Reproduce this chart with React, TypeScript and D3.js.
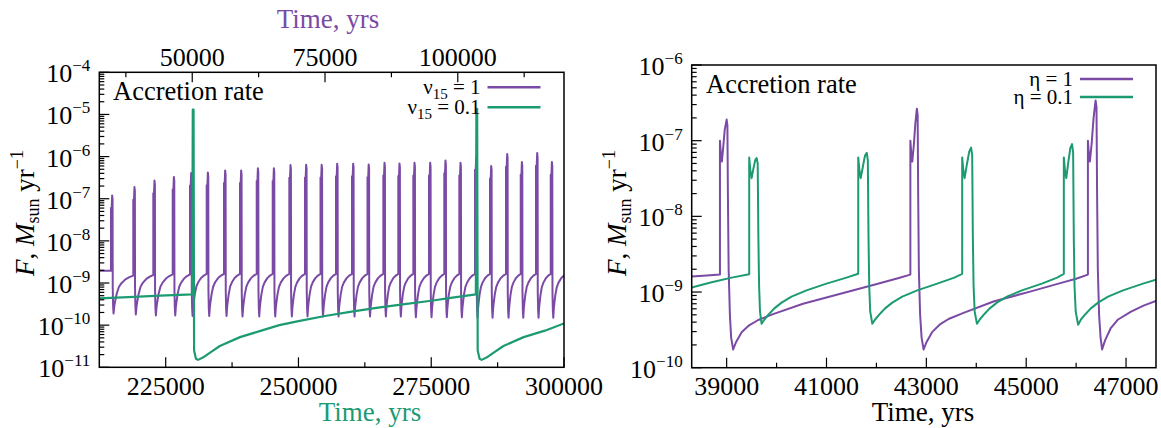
import React from 'react';
import * as d3 from 'd3';

type Pt = [number, number];

const FONT = '"Liberation Serif", "Times New Roman", Times, serif';
const PURPLE = '#7b4aa5';
const GREEN = '#1c9b72';

// ---------- left panel ----------
const leftLowerRange = [212500, 300000]; // ν15 = 0.1 time axis (bottom)
const leftUpperRange = [32500, 120000]; // ν15 = 1 time axis (top)
const leftRateRange = [1e-11, 1e-4];
const leftLowerMajor = [225000, 250000, 275000, 300000];
const leftLowerMinor = [237500, 262500, 287500];
const leftUpperMajor = [50000, 75000, 100000];
const leftUpperMinor = [37500, 62500, 87500, 112500];

// ν15 = 1 : outburst onsets (yr), peak rates, quiescent minima and pre-burst levels
const nu1Onsets = [34700, 38900, 42670, 46320, 49580, 52720, 55980, 58990, 62140, 65150, 68280, 71230, 74150, 77070,
  80080, 83000, 85980, 88800, 91630, 94580, 97460, 100290, 103240, 106070, 109080, 111850, 114730, 117500];
const nu1Peaks = [1.2e-7, 1.9e-7, 2.7e-7, 3.3e-7, 4.1e-7, 4.2e-7, 4.7e-7, 4.7e-7, 5.3e-7, 5.3e-7, 6.3e-7, 6.4e-7, 6.4e-7, 6.8e-7,
  6.8e-7, 6.5e-7, 7.1e-7, 6.9e-7, 7.1e-7, 7.1e-7, 8.1e-7, 7.1e-7, 9.7e-7, 6.0e-7, 1.15e-6, 7.4e-7, 1.22e-6, 7.4e-7];
const nu1Minima = [1.9e-10, 1.8e-10, 1.7e-10, 1.7e-10, 1.65e-10, 1.65e-10, 1.65e-10, 1.6e-10, 1.6e-10, 1.6e-10, 1.6e-10, 1.6e-10, 1.6e-10, 1.6e-10,
  1.6e-10, 1.6e-10, 1.6e-10, 1.6e-10, 1.55e-10, 1.55e-10, 1.55e-10, 1.55e-10, 1.5e-10, 1.5e-10, 1.5e-10, 1.5e-10, 1.5e-10, 1.5e-10];
const nu1PreBurst = [1.95e-9, 1.5e-9, 1.55e-9, 1.6e-9, 1.6e-9, 1.65e-9, 1.65e-9, 1.65e-9, 1.65e-9, 1.65e-9, 1.65e-9, 1.65e-9, 1.65e-9, 1.65e-9,
  1.65e-9, 1.65e-9, 1.65e-9, 1.65e-9, 1.65e-9, 1.65e-9, 1.65e-9, 1.65e-9, 1.65e-9, 1.65e-9, 1.65e-9, 1.65e-9, 1.65e-9, 1.65e-9];
const nu1Initial: Pt = [32500, 1.95e-9];
const nu1NextOnset = 120450;
const nu1NextPre = 1.65e-9;
// outburst profile: [yr after onset, fraction of peak]
const nu1BurstShape: Pt[] = [[0, 0.5], [90, 0.35], [220, 1], [300, 0.8]];
// decline profile: [yr after onset, multiple of the quiescent minimum]
const nu1DecayShape: Pt[] = [[330, 4], [400, 1.5], [480, 1]];
// quiescent recovery: [fraction of the interval, fraction of the log rise]
const quiescentRise: Pt[] = [[0.04, 0.2], [0.08, 0.32], [0.16, 0.52], [0.27, 0.7], [0.4, 0.8], [0.6, 0.9], [0.8, 0.96], [1, 1]];

// ν15 = 0.1 accretion rate
const nu01Rate: Pt[] = [
  [212500, 4.3e-10], [218000, 4.65e-10], [224000, 5.0e-10], [230000, 5.4e-10],
  [230100, 1.3e-5], [230250, 1.3e-5], [230350, 2.5e-11], [230700, 1.6e-11], [231100, 1.5e-11],
  [232000, 1.7e-11], [233500, 2.3e-11], [235200, 3.2e-11], [239000, 5.2e-11], [243000, 7.4e-11],
  [246400, 1.0e-10], [250000, 1.25e-10], [255000, 1.65e-10], [260000, 2.1e-10], [265000, 2.6e-10],
  [270000, 3.15e-10], [275000, 3.8e-10], [279000, 4.5e-10], [283400, 5.4e-10],
  [283500, 1.35e-5], [283650, 1.35e-5], [283750, 2.5e-11], [284100, 1.6e-11], [284500, 1.5e-11],
  [285400, 1.7e-11], [286900, 2.3e-11], [288600, 3.2e-11], [292400, 5.2e-11], [296400, 7.4e-11],
  [300000, 1.1e-10],
];

// ---------- right panel ----------
const rightTimeRange = [38300, 47600];
const rightRateRange = [1e-10, 1e-6];
const rightMajor = [39000, 41000, 43000, 45000, 47000];
const rightMinor = [40000, 42000, 44000, 46000];

const eta1Rate: Pt[] = [
  [38300, 1.6e-9], [38600, 1.65e-9], [38866, 1.7e-9],
  [38866, 1.0e-7], [38885, 6.5e-8], [38904, 5.3e-8], [38930, 8.0e-8], [38962, 1.4e-7], [39000, 1.9e-7],
  [39015, 1.6e-7], [39025, 2.0e-8], [39040, 2.0e-9], [39065, 5.0e-10], [39090, 2.5e-10], [39130, 1.74e-10],
  [39190, 2.19e-10], [39300, 2.95e-10], [39450, 3.63e-10], [39632, 4.27e-10], [39930, 5.1e-10],
  [40530, 7.0e-10], [41280, 9.5e-10], [42010, 1.28e-9], [42430, 1.52e-9], [42680, 1.7e-9],
  [42680, 1.0e-7], [42700, 6.5e-8], [42718, 5.3e-8], [42748, 8.5e-8], [42780, 1.7e-7], [42810, 2.65e-7],
  [42826, 2.2e-7], [42836, 2.0e-8], [42850, 2.0e-9], [42875, 5.0e-10], [42905, 2.5e-10], [42945, 1.74e-10],
  [43005, 2.19e-10], [43115, 2.95e-10], [43265, 3.7e-10], [43445, 4.4e-10], [43745, 5.3e-10],
  [44345, 7.5e-10], [45095, 1.02e-9], [45700, 1.32e-9], [46000, 1.5e-9], [46236, 1.7e-9],
  [46236, 1.0e-7], [46256, 6.5e-8], [46275, 5.3e-8], [46310, 9.0e-8], [46350, 2.0e-7], [46390, 3.4e-7],
  [46408, 2.8e-7], [46420, 2.0e-8], [46435, 2.0e-9], [46460, 5.0e-10], [46490, 2.5e-10], [46520, 1.74e-10],
  [46580, 2.3e-10], [46690, 3.3e-10], [46832, 4.3e-10], [47100, 5.5e-10], [47350, 6.6e-10], [47600, 7.6e-10],
];

const eta01Rate: Pt[] = [
  [38300, 1.15e-9], [38700, 1.35e-9], [39100, 1.55e-9], [39452, 1.72e-9],
  [39452, 6.0e-8], [39475, 4.0e-8], [39500, 3.2e-8], [39540, 4.4e-8], [39575, 5.6e-8], [39600, 5.9e-8],
  [39622, 5.0e-8], [39636, 5.0e-9], [39650, 1.2e-9], [39668, 5.5e-10], [39700, 3.8e-10],
  [39760, 4.37e-10], [39850, 5.13e-10], [39950, 6.03e-10], [40100, 7.24e-10], [40300, 8.71e-10],
  [40600, 1.05e-9], [41000, 1.29e-9], [41400, 1.55e-9], [41636, 1.74e-9],
  [41636, 6.0e-8], [41660, 4.0e-8], [41685, 3.2e-8], [41730, 4.6e-8], [41770, 6.3e-8], [41806, 6.9e-8],
  [41828, 5.5e-8], [41842, 5.0e-9], [41856, 1.2e-9], [41876, 5.5e-10], [41918, 3.8e-10],
  [41978, 4.37e-10], [42068, 5.13e-10], [42168, 6.03e-10], [42318, 7.24e-10], [42518, 8.71e-10],
  [42818, 1.05e-9], [43218, 1.29e-9], [43560, 1.55e-9], [43718, 1.74e-9],
  [43718, 6.0e-8], [43742, 4.0e-8], [43767, 3.2e-8], [43815, 5.0e-8], [43860, 7.2e-8], [43896, 8.1e-8],
  [43918, 6.5e-8], [43932, 5.0e-9], [43946, 1.2e-9], [43968, 5.5e-10], [44014, 3.8e-10],
  [44074, 4.37e-10], [44164, 5.13e-10], [44264, 6.03e-10], [44414, 7.24e-10], [44614, 8.71e-10],
  [44914, 1.05e-9], [45314, 1.29e-9], [45620, 1.55e-9], [45754, 1.74e-9],
  [45754, 6.0e-8], [45778, 4.0e-8], [45803, 3.2e-8], [45845, 5.3e-8], [45885, 8.0e-8], [45918, 9.0e-8],
  [45940, 7.0e-8], [45954, 5.0e-9], [45968, 1.2e-9], [45992, 5.5e-10], [46040, 3.7e-10],
  [46100, 4.37e-10], [46190, 5.13e-10], [46290, 6.03e-10], [46440, 7.24e-10], [46640, 8.71e-10],
  [46940, 1.05e-9], [47340, 1.29e-9], [47600, 1.45e-9],
];

function buildNu1(): Pt[] {
  const pts: Pt[] = [nu1Initial];
  nu1Onsets.forEach((t0, i) => {
    const peak = nu1Peaks[i];
    const lo = nu1Minima[i];
    pts.push([t0, nu1PreBurst[i]]);
    nu1BurstShape.forEach(([dt, f]) => pts.push([t0 + dt, f * peak]));
    nu1DecayShape.forEach(([dt, f]) => pts.push([t0 + dt, f * lo]));
    const tMin = t0 + nu1DecayShape[nu1DecayShape.length - 1][0];
    const last = i + 1 >= nu1Onsets.length;
    const tNext = last ? nu1NextOnset : nu1Onsets[i + 1];
    const hi = last ? nu1NextPre : nu1PreBurst[i + 1];
    const a = Math.log10(lo);
    const b = Math.log10(hi);
    quiescentRise.forEach(([f, g]) => pts.push([tMin + f * (tNext - tMin), Math.pow(10, a + g * (b - a))]));
  });
  return pts;
}

const L = { left: 99.3, right: 564, top: 72.3, bottom: 367.3 };
const R = { left: 691.7, right: 1156, top: 65, bottom: 367.7 };

const isDecade = (v: number) => Math.abs(Math.log10(v) - Math.round(Math.log10(v))) < 1e-6;

function YAxis({ y, x0, top, bottom }: { y: d3.ScaleLogarithmic<number, number>; x0: number; top: number; bottom: number }) {
  const ticks = y.ticks();
  return (
    <g>
      {ticks.map((v, i) => {
        const yy = y(v);
        if (yy < top - 0.5 || yy > bottom + 0.5) return null;
        const major = isDecade(v);
        return <line key={i} x1={x0} x2={x0 + (major ? 10 : 5)} y1={yy} y2={yy} stroke="#000" strokeWidth={1.2} />;
      })}
      {ticks.filter(isDecade).map((v, i) => (
        <text key={'l' + i} x={x0 - 9} y={y(v) + 10} textAnchor="end" fontSize={26} fontFamily={FONT} fill="#000">
          10<tspan fontSize={17} dy={-11}>{'\u2212' + Math.round(-Math.log10(v))}</tspan>
        </text>
      ))}
    </g>
  );
}

function XTicks({ x, major, minor, y0, dir, labelY }: {
  x: d3.ScaleLinear<number, number>; major: number[]; minor: number[]; y0: number; dir: number; labelY: number;
}) {
  return (
    <g>
      {major.map((v, i) => (
        <line key={'M' + i} x1={x(v)} x2={x(v)} y1={y0} y2={y0 + dir * 10} stroke="#000" strokeWidth={1.2} />
      ))}
      {minor.map((v, i) => (
        <line key={'m' + i} x1={x(v)} x2={x(v)} y1={y0} y2={y0 + dir * 5} stroke="#000" strokeWidth={1.2} />
      ))}
      {major.map((v, i) => (
        <text key={'t' + i} x={x(v)} y={labelY} textAnchor="middle" fontSize={26} fontFamily={FONT} fill="#000">{String(v)}</text>
      ))}
    </g>
  );
}

function YLabel({ x, y }: { x: number; y: number }) {
  return (
    <text transform={`translate(${x},${y}) rotate(-90)`} textAnchor="middle" fontSize={27} fontFamily={FONT} fill="#000">
      <tspan fontStyle="italic">F</tspan>
      <tspan>{', '}</tspan>
      <tspan fontStyle="italic">M</tspan>
      <tspan fontSize={18} dy={5}>sun</tspan>
      <tspan dy={-5}>{' yr'}</tspan>
      <tspan fontSize={18} dy={-11}>{'\u22121'}</tspan>
    </text>
  );
}

function LegendRow({ xEnd, y, color, children }: { xEnd: number; y: number; color: string; children: React.ReactNode }) {
  return (
    <g>
      <text x={xEnd} y={y + 6.5} textAnchor="end" fontSize={21} fontFamily={FONT} fill="#000">{children}</text>
      <line x1={xEnd + 7} x2={xEnd + 60} y1={y} y2={y} stroke={color} strokeWidth={2.4} />
    </g>
  );
}

export default function App() {
  const xBot = d3.scaleLinear().domain(leftLowerRange).range([L.left, L.right]);
  const xTop = d3.scaleLinear().domain(leftUpperRange).range([L.left, L.right]);
  const yL = d3.scaleLog().domain(leftRateRange).range([L.bottom, L.top]);
  const xR = d3.scaleLinear().domain(rightTimeRange).range([R.left, R.right]);
  const yR = d3.scaleLog().domain(rightRateRange).range([R.bottom, R.top]);

  const nu1 = buildNu1();
  const lineTopL = d3.line<Pt>().x(d => xTop(d[0])).y(d => yL(d[1]));
  const lineBotL = d3.line<Pt>().x(d => xBot(d[0])).y(d => yL(d[1]));
  const lineR = d3.line<Pt>().x(d => xR(d[0])).y(d => yR(d[1]));

  return (
    <svg width={1161} height={428} style={{ position: 'absolute', left: 0, top: 0, background: '#fff' }}>
      <defs>
        <clipPath id="clipL"><rect x={L.left} y={L.top} width={L.right - L.left} height={L.bottom - L.top} /></clipPath>
        <clipPath id="clipR"><rect x={R.left} y={R.top} width={R.right - R.left} height={R.bottom - R.top} /></clipPath>
      </defs>
      <rect x={0} y={0} width={1161} height={428} fill="#fff" />

      {/* left panel */}
      <g clipPath="url(#clipL)">
        <path d={lineTopL(nu1) ?? ''} fill="none" stroke={PURPLE} strokeWidth={2} strokeLinejoin="round" />
        <path d={lineBotL(nu01Rate) ?? ''} fill="none" stroke={GREEN} strokeWidth={2.2} strokeLinejoin="round" />
      </g>
      <YAxis y={yL} x0={L.left} top={L.top} bottom={L.bottom} />
      <XTicks x={xBot} major={leftLowerMajor} minor={leftLowerMinor} y0={L.bottom} dir={-1} labelY={395} />
      <XTicks x={xTop} major={leftUpperMajor} minor={leftUpperMinor} y0={L.top} dir={1} labelY={66} />
      <rect x={L.left} y={L.top} width={L.right - L.left} height={L.bottom - L.top} fill="none" stroke="#000" strokeWidth={1.5} />
      <text x={328} y={28} textAnchor="middle" fontSize={27} fontFamily={FONT} fill={PURPLE}>Time, yrs</text>
      <text x={370} y={421} textAnchor="middle" fontSize={27} fontFamily={FONT} fill={GREEN}>Time, yrs</text>
      <text x={113} y={100} fontSize={26.5} fontFamily={FONT} fill="#000">Accretion rate</text>
      <LegendRow xEnd={480.5} y={87.3} color={PURPLE}>
        {'\u03bd'}<tspan fontSize={15} dy={5}>15</tspan><tspan dy={-5}>{' = 1'}</tspan>
      </LegendRow>
      <LegendRow xEnd={480.5} y={107.3} color={GREEN}>
        {'\u03bd'}<tspan fontSize={15} dy={5}>15</tspan><tspan dy={-5}>{' = 0.1'}</tspan>
      </LegendRow>
      <YLabel x={33.5} y={213} />

      {/* right panel */}
      <g clipPath="url(#clipR)">
        <path d={lineR(eta1Rate) ?? ''} fill="none" stroke={PURPLE} strokeWidth={2} strokeLinejoin="round" />
        <path d={lineR(eta01Rate) ?? ''} fill="none" stroke={GREEN} strokeWidth={2} strokeLinejoin="round" />
      </g>
      <YAxis y={yR} x0={R.left} top={R.top} bottom={R.bottom} />
      <XTicks x={xR} major={rightMajor} minor={rightMinor} y0={R.bottom} dir={-1} labelY={395} />
      <rect x={R.left} y={R.top} width={R.right - R.left} height={R.bottom - R.top} fill="none" stroke="#000" strokeWidth={1.5} />
      <text x={923} y={421} textAnchor="middle" fontSize={27} fontFamily={FONT} fill="#000">Time, yrs</text>
      <text x={706} y={92.7} fontSize={26.5} fontFamily={FONT} fill="#000">Accretion rate</text>
      <LegendRow xEnd={1073} y={79} color={PURPLE}>{'\u03b7 = 1'}</LegendRow>
      <LegendRow xEnd={1073} y={97} color={GREEN}>{'\u03b7 = 0.1'}</LegendRow>
      <YLabel x={626} y={213} />
    </svg>
  );
}
